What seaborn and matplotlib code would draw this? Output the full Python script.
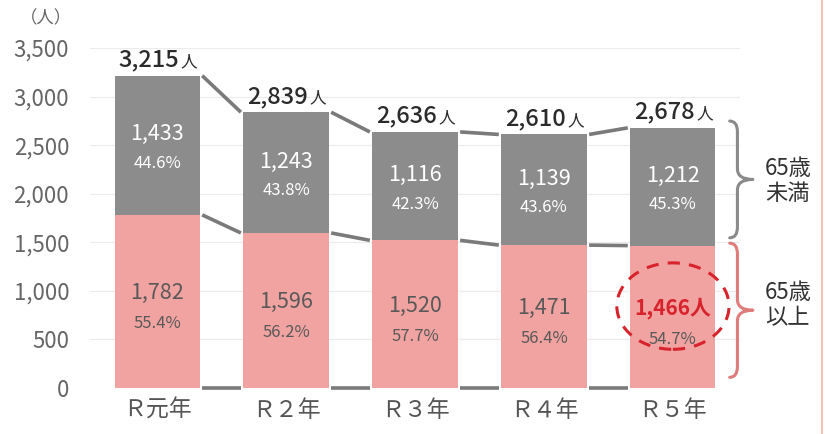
import pandas as pd
import matplotlib
matplotlib.use("Agg")
import matplotlib.pyplot as plt
import seaborn as sns
from matplotlib.patches import Ellipse, PathPatch
from matplotlib.path import Path

# data
years = ["Ｒ元年", "Ｒ２年", "Ｒ３年", "Ｒ４年", "Ｒ５年"]
totals = [3215, 2839, 2636, 2610, 2678]
under65 = [1433, 1243, 1116, 1139, 1212]
over65 = [1782, 1596, 1520, 1471, 1466]
under65_pct = [44.6, 43.8, 42.3, 43.6, 45.3]
over65_pct = [55.4, 56.2, 57.7, 56.4, 54.7]
yticks = [0, 500, 1000, 1500, 2000, 2500, 3000, 3500]

GRAY = "#8c8c8c"
PINK = "#f0a3a0"
RED = "#d8232c"
LINE = "#7a7a7a"
BAR_W = 0.66


def brace(ax, x0, xm, x1, y0, y1, r, color):
    ymid = (y0 + y1) / 2
    verts = [(x0, y1), (xm, y1), (xm, y1 - r),
             (xm, ymid + r),
             (xm, ymid), (x1, ymid),
             (xm, ymid), (xm, ymid - r),
             (xm, y0 + r),
             (xm, y0), (x0, y0)]
    codes = [Path.MOVETO, Path.CURVE3, Path.CURVE3,
             Path.LINETO,
             Path.CURVE3, Path.CURVE3,
             Path.CURVE3, Path.CURVE3,
             Path.LINETO,
             Path.CURVE3, Path.CURVE3]
    ax.add_patch(PathPatch(Path(verts, codes), fill=False, edgecolor=color,
                           lw=2.2, clip_on=False, capstyle="round", joinstyle="round"))


sns.set_theme(style="white")
plt.rcParams['font.family'] = ['Noto Sans CJK JP', 'DejaVu Sans']

df = pd.DataFrame({"year": years, "total": totals, "over65": over65})

fig = plt.figure(figsize=(8.25, 4.34), dpi=100)
ax = fig.add_axes([90 / 825, 1 - 388 / 434, 650 / 825, 340 / 434])

sns.barplot(data=df, x="year", y="total", color=GRAY, width=BAR_W, linewidth=0,
            saturation=1, errorbar=None, ax=ax, zorder=2)
sns.barplot(data=df, x="year", y="over65", color=PINK, width=BAR_W, linewidth=0,
            saturation=1, errorbar=None, ax=ax, zorder=2)

ax.set_xlim(-0.52, 4.52)
ax.set_ylim(0, 3500)
ax.set_yticks(yticks)
ax.set_yticklabels([f"{v:,}" for v in yticks], color="#666666", fontsize=16)
ax.tick_params(axis="y", length=0, pad=15)
ax.tick_params(axis="x", length=0, pad=8, labelsize=16.5, labelcolor="#555555")
ax.set_xlabel("")
ax.set_ylabel("")
for s in ax.spines.values():
    s.set_visible(False)
ax.grid(axis="y", color="#ececec", lw=0.8, zorder=0)
ax.set_axisbelow(True)

# connector lines between bars
half = BAR_W / 2 + 0.02
zeros = [0] * len(years)
for series in (totals, over65, zeros):
    for i in range(len(years) - 1):
        ax.plot([i + half, i + 1 - half], [series[i], series[i + 1]],
                color=LINE, lw=2.6, solid_capstyle="butt", zorder=3, clip_on=False)

# totals above bars
for i, t in enumerate(totals):
    txt = ax.annotate(f"{t:,}", (i, t), xytext=(-6, 3), textcoords="offset points",
                      ha="center", va="bottom", fontsize=17, color="#2b2b2b",
                      fontweight="medium")
    ax.annotate("人", xy=(1, 0), xycoords=txt, xytext=(1, 1), textcoords="offset points",
                ha="left", va="bottom", fontsize=12, color="#2b2b2b")

# segment labels
for i in range(len(years)):
    mid_top = over65[i] + under65[i] / 2
    ax.annotate(f"{under65[i]:,}", (i, mid_top), xytext=(0, 8), textcoords="offset points",
                ha="center", va="center", fontsize=15.5, color="white")
    ax.annotate(f"{under65_pct[i]}%", (i, mid_top), xytext=(0, -13), textcoords="offset points",
                ha="center", va="center", fontsize=12, color="white")
    mid_bot = over65[i] / 2
    if i == len(years) - 1:
        ax.annotate(f"{over65[i]:,}人", (i, mid_bot), xytext=(0, 6), textcoords="offset points",
                    ha="center", va="center", fontsize=15, color=RED, fontweight="bold")
    else:
        ax.annotate(f"{over65[i]:,}", (i, mid_bot), xytext=(0, 6), textcoords="offset points",
                    ha="center", va="center", fontsize=15.5, color="#595959")
    ax.annotate(f"{over65_pct[i]}%", (i, mid_bot), xytext=(0, -16), textcoords="offset points",
                ha="center", va="center", fontsize=12, color="#595959")

# dashed highlight around the latest value
last = len(years) - 1
ax.add_patch(Ellipse((last, over65[last] / 2 + 110), 0.87, 890, fill=False,
                     edgecolor=RED, lw=2.2, ls=(0, (4, 3)), zorder=4, clip_on=False))

# braces and group labels on the right
brace(ax, last + 0.44, last + 0.50, last + 0.62,
      over65[last] + 80, totals[last] + 70, 110, "#8a8a8a")
brace(ax, last + 0.44, last + 0.50, last + 0.62,
      110, over65[last] + 25, 110, "#e07b7b")
ax.text(last + 0.89, over65[last] + under65[last] / 2 + 60, "65歳\n未満",
        ha="center", va="center", fontsize=16, color="#333333", linespacing=1.1)
ax.text(last + 0.89, over65[last] / 2 + 120, "65歳\n以上",
        ha="center", va="center", fontsize=16, color="#333333", linespacing=1.1)

fig.text(46 / 825, 1 - 18 / 434, "（人）", ha="center", va="center",
         fontsize=12.5, color="#666666")

# page border seen at right edge of the scan
fig.add_artist(plt.Line2D([822 / 825, 822 / 825], [0, 1], color="#f3c2b4", lw=1.5))

fig.savefig("out.png", dpi=100)
